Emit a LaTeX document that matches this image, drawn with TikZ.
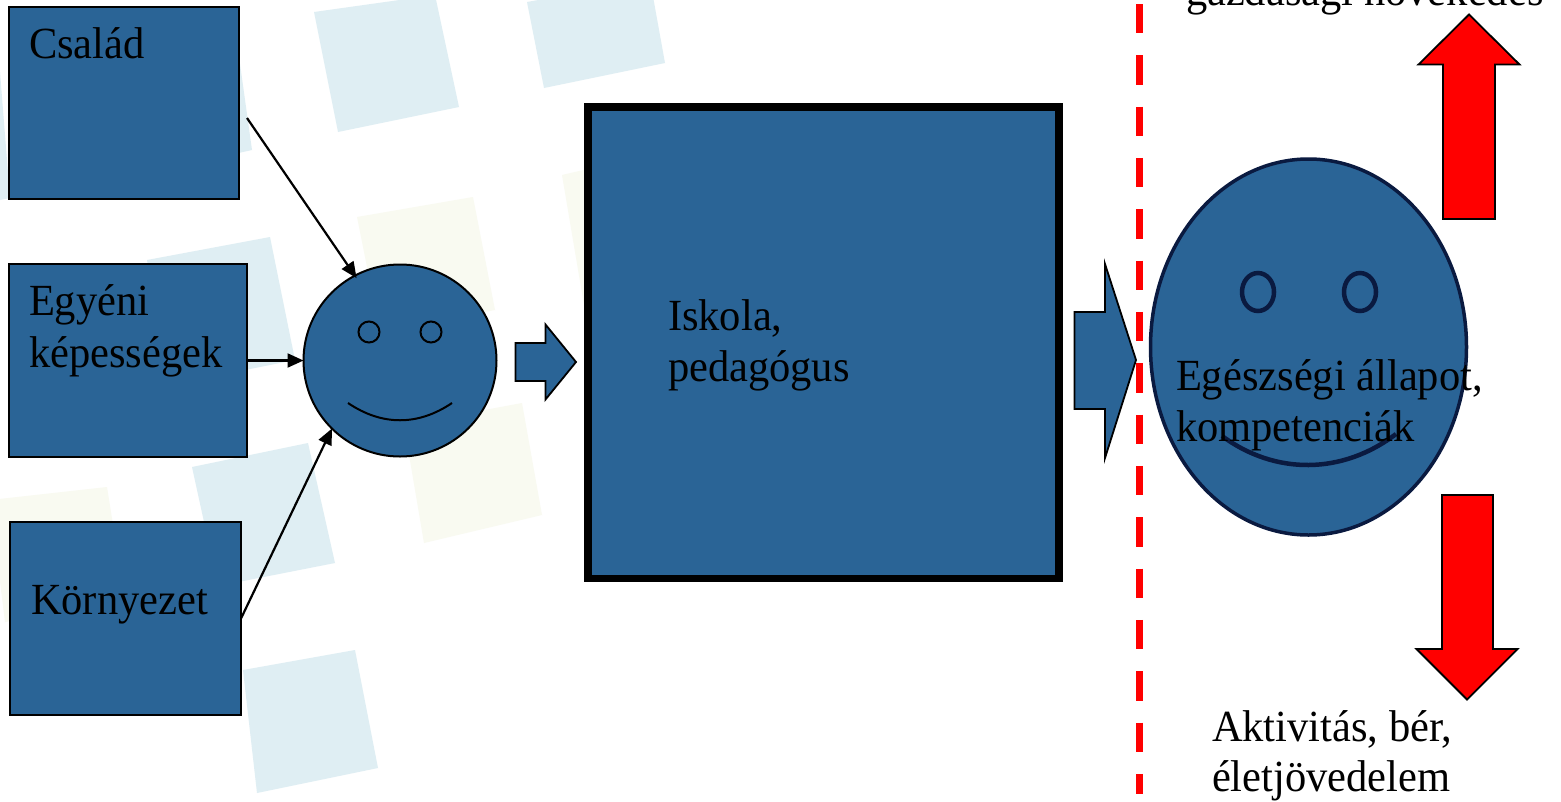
\documentclass[tikz,border=0pt]{standalone}
\usepackage{fontspec}
\setmainfont[FakeStretch=0.955]{Liberation Serif}
\usetikzlibrary{arrows.meta,shapes.geometric}
\definecolor{boxblue}{HTML}{2A6496}
\definecolor{paleblue}{HTML}{DFEEF3}
\definecolor{paleyellow}{HTML}{F9FAF1}
\definecolor{navy}{HTML}{0A1A40}
\tikzset{
  x=1pt,y=-1pt,
  bluebox/.style={draw=black,fill=boxblue,rectangle,inner sep=0pt,outer sep=0pt,line width=2pt},
  facecircle/.style={draw=black,fill=boxblue,ellipse,inner sep=0pt,outer sep=0pt,line width=2pt},
  eyesmall/.style={draw=black,fill=boxblue,line width=2pt},
  eyebig/.style={draw=navy,fill=boxblue,line width=4.5pt},
  label text/.style={inner sep=0pt,outer sep=0pt,anchor=base west,align=left,text=black,
    font=\fontsize{44.5}{51.5}\selectfont},
  thin arrow/.style={draw=black,line width=2.2pt,-{Triangle[length=16pt,width=14pt]}},
  block arrow/.style={draw=black,fill=boxblue,line width=1.8pt,miter limit=10},
  red arrow/.style={draw=black,fill=red,line width=1.8pt,miter limit=10},
  red dashes/.style={draw=red,line width=7pt,dash pattern=on 29.3pt off 22.03pt},
  sqblue/.style={fill=paleblue},
  sqyellow/.style={fill=paleyellow}
}
\begin{document}
\begin{tikzpicture}
\useasboundingbox (0,0) rectangle (1561,801);
\fill[white] (0,0) rectangle (1561,801);
% background squares
\fill[sqblue] (314,12) -- (435,-5) -- (459,107) -- (338,132) -- cycle;
\fill[sqblue] (527,2) -- (650,-20) -- (665,63) -- (544,88) -- cycle;
\fill[sqblue] (125,50) -- (235,28) -- (252,150) -- (140,175) -- cycle;
\fill[sqblue] (-100,92) -- (0,72) -- (10,198) -- (-80,216) -- cycle;
\fill[sqblue] (147,260) -- (270,237) -- (295,360) -- (170,385) -- cycle;
\fill[sqyellow] (357,217) -- (473,197) -- (495,310) -- (380,332) -- cycle;
\fill[sqyellow] (562,175) -- (592,168) -- (592,310) -- (585,311) -- cycle;
\fill[sqblue] (192,467) -- (308,443) -- (335,563) -- (218,586) -- cycle;
\fill[sqyellow] (404,425) -- (522,403) -- (542,515) -- (424,543) -- cycle;
\fill[sqblue] (243,670) -- (355,650) -- (378,768) -- (257,793) -- cycle;
\fill[sqyellow] (-10,500) -- (107,487) -- (125,600) -- (5,622) -- cycle;
% boxes
\node[bluebox,minimum width=230pt,minimum height=192pt] (csalad) at (124,103) {};
\node[bluebox,minimum width=238pt,minimum height=193pt] (egyeni) at (128,360.5) {};
\node[bluebox,line width=2.6pt,minimum width=231pt,minimum height=193pt] (kornyezet) at (125.5,618.5) {};
\node[bluebox,line width=7.5pt,minimum width=471pt,minimum height=471.5pt] (iskola) at (823.5,342.75) {};
% small face
\node[facecircle,minimum width=193pt,minimum height=192pt] (face) at (400,360.5) {};
\node[eyesmall,circle,inner sep=0pt,minimum size=21pt] (eyeA) at (369,332) {};
\node[eyesmall,circle,inner sep=0pt,minimum size=21pt] (eyeB) at (431,332) {};
\draw[black,line width=2pt] (348,403) .. controls (382,426) and (418,426) .. (452,403);
% thin arrows
\coordinate (famstart) at (247,118);
\draw[thin arrow,shorten >=-3pt] (famstart) -- (face.118);
\draw[thin arrow] (egyeni.east) -- (face.west);
\draw[thin arrow] (kornyezet.east) -- (face.225);
% block arrows
\draw[block arrow] (515.5,343) -- (545.5,343) -- (545.5,324.5) -- (576,362) -- (545.5,399.5) -- (545.5,381) -- (515.5,381) -- cycle;
\draw[block arrow] (1074.5,312) -- (1105,312) -- (1105,264) -- (1136,360) -- (1105,458) -- (1105,409) -- (1074.5,409) -- cycle;
% red dashed divider
\coordinate (divtop) at (1139,4);
\coordinate (divbot) at (1139,794);
\draw[red dashes] (divtop) -- (divbot);
% big face
\node[facecircle,draw=navy,line width=3.5pt,minimum width=316pt,minimum height=376pt] (bigface) at (1308.5,347) {};
\node[eyebig,ellipse,inner sep=0pt,minimum width=32pt,minimum height=38pt] (eyeC) at (1258,292) {};
\node[eyebig,ellipse,inner sep=0pt,minimum width=32pt,minimum height=38pt] (eyeD) at (1360,292) {};
\draw[navy,line width=4.5pt] (1222,436) .. controls (1275,475) and (1342,475) .. (1396,434);
% red arrows
\draw[red arrow] (1469,14.5) -- (1519.5,64.5) -- (1495,64.5) -- (1495,219) -- (1443,219) -- (1443,64.5) -- (1418.5,64.5) -- cycle;
\draw[red arrow] (1467,699.5) -- (1517.5,649) -- (1493,649) -- (1493,495) -- (1442,495) -- (1442,649) -- (1416.5,649) -- cycle;
% texts
\node[label text] (t1) at (29,58) {Család};
\node[label text] (t2) at (29,315) {Egyéni};
\node[label text] (t3) at (29,367) {képességek};
\node[label text] (t4) at (31,614) {Környezet};
\node[label text] (t5) at (668,330) {Iskola,};
\node[label text] (t6) at (668,381) {pedagógus};
\node[label text] (t7) at (1176,390) {Egészségi állapot,};
\node[label text] (t8) at (1176,441) {kompetenciák};
\node[label text] (t9) at (1212,741) {Aktivitás, bér,};
\node[label text] (t10) at (1212,791) {életjövedelem};
\node[label text] (t11) at (1186,5) {gazdasági növekedés};
\end{tikzpicture}
\end{document}
